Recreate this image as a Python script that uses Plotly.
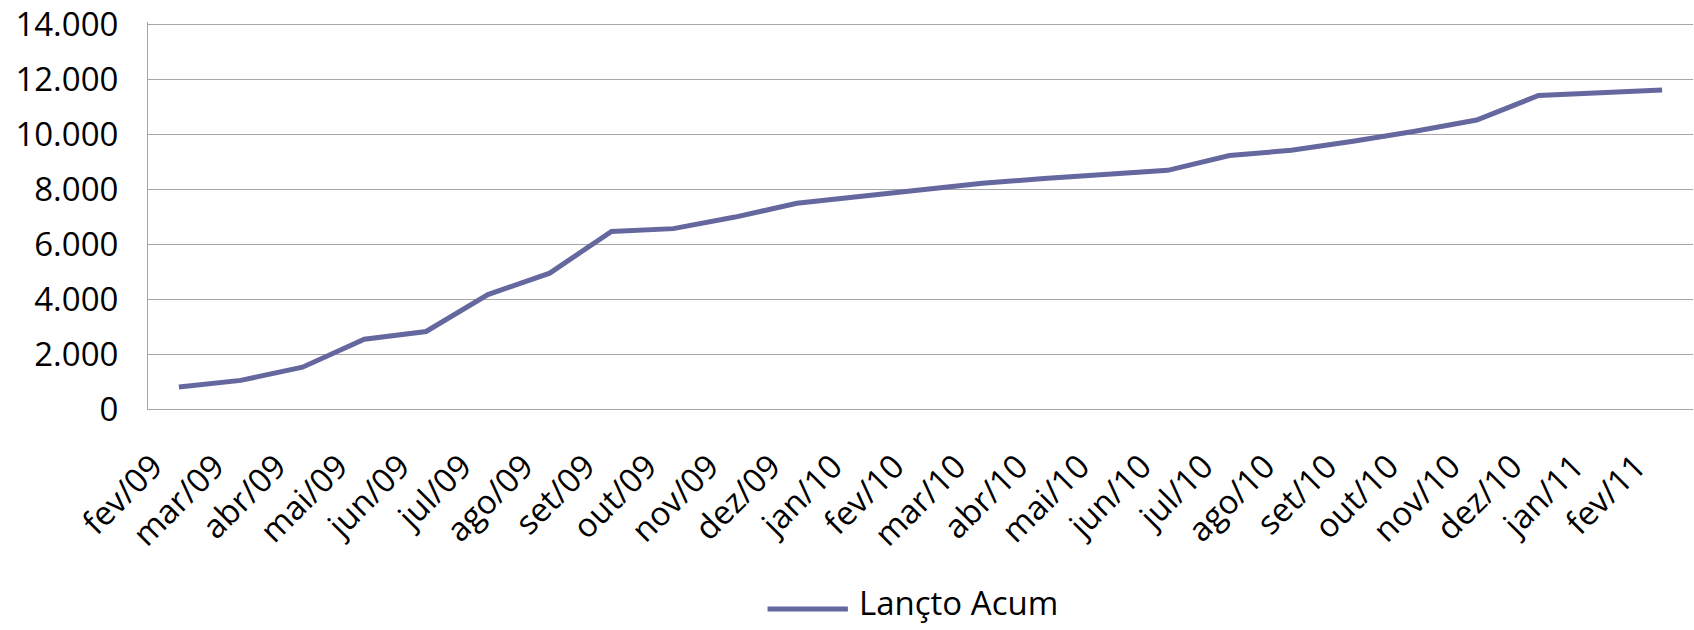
import plotly.graph_objects as go

# Monthly cumulative postings
months = ["fev/09", "mar/09", "abr/09", "mai/09", "jun/09", "jul/09", "ago/09",
          "set/09", "out/09", "nov/09", "dez/09", "jan/10", "fev/10", "mar/10",
          "abr/10", "mai/10", "jun/10", "jul/10", "ago/10", "set/10", "out/10",
          "nov/10", "dez/10", "jan/11", "fev/11"]
lancto_acum = [800, 1040, 1520, 2540, 2820, 4160, 4940, 6460, 6560, 6980,
               7480, 7720, 8000, 8210, 8380, 8520, 8680, 9220, 9410, 9740,
               10100, 10510, 11400, 11500, 11600]
series_name = "Lançto Acum"
y_ticks = [0, 2000, 4000, 6000, 8000, 10000, 12000, 14000]

LINE_COLOR = "#65679f"
GRID_COLOR = "#a6a6a6"
FONT = "Open Sans"
FONT_SIZE = 33

fig = go.Figure()
fig.add_trace(go.Scatter(
    x=months, y=lancto_acum, mode="lines", name=series_name,
    line=dict(color=LINE_COLOR, width=5), showlegend=False,
))

fig.update_layout(
    width=1694, height=630,
    margin=dict(l=148, r=1, t=18, b=221),
    paper_bgcolor="white", plot_bgcolor="white",
    separators=",.",
    font=dict(family=FONT, size=FONT_SIZE, color="black"),
    showlegend=False,
)
fig.update_xaxes(
    type="category", range=[-0.5, len(months) - 0.5],
    tickangle=-45, showgrid=False, showline=True, linecolor=GRID_COLOR,
    linewidth=1, ticks="", ticklabelstandoff=24, ticklabelshift=-26,
)
# top of the range sits a little above 14.000 so its gridline is kept
fig.update_yaxes(
    range=[0, 14075], tickvals=y_ticks, tickformat=",d",
    showgrid=True, gridcolor=GRID_COLOR, gridwidth=1,
    showline=True, linecolor=GRID_COLOR, linewidth=1,
    zeroline=False, ticks="", ticklabelstandoff=22,
    ticklabeloverflow="allow",
)

# Legend drawn below the axis: a line sample followed by the series name
legend_y = -0.517
fig.add_shape(type="line", xref="paper", yref="paper",
              x0=0.401, x1=0.453, y0=legend_y, y1=legend_y,
              line=dict(color=LINE_COLOR, width=5))
fig.add_annotation(xref="paper", yref="paper", x=0.459, y=-0.563,
                   text=series_name, showarrow=False, xanchor="left",
                   yanchor="bottom", font=dict(size=FONT_SIZE, family=FONT))

fig.write_html("out.html")
